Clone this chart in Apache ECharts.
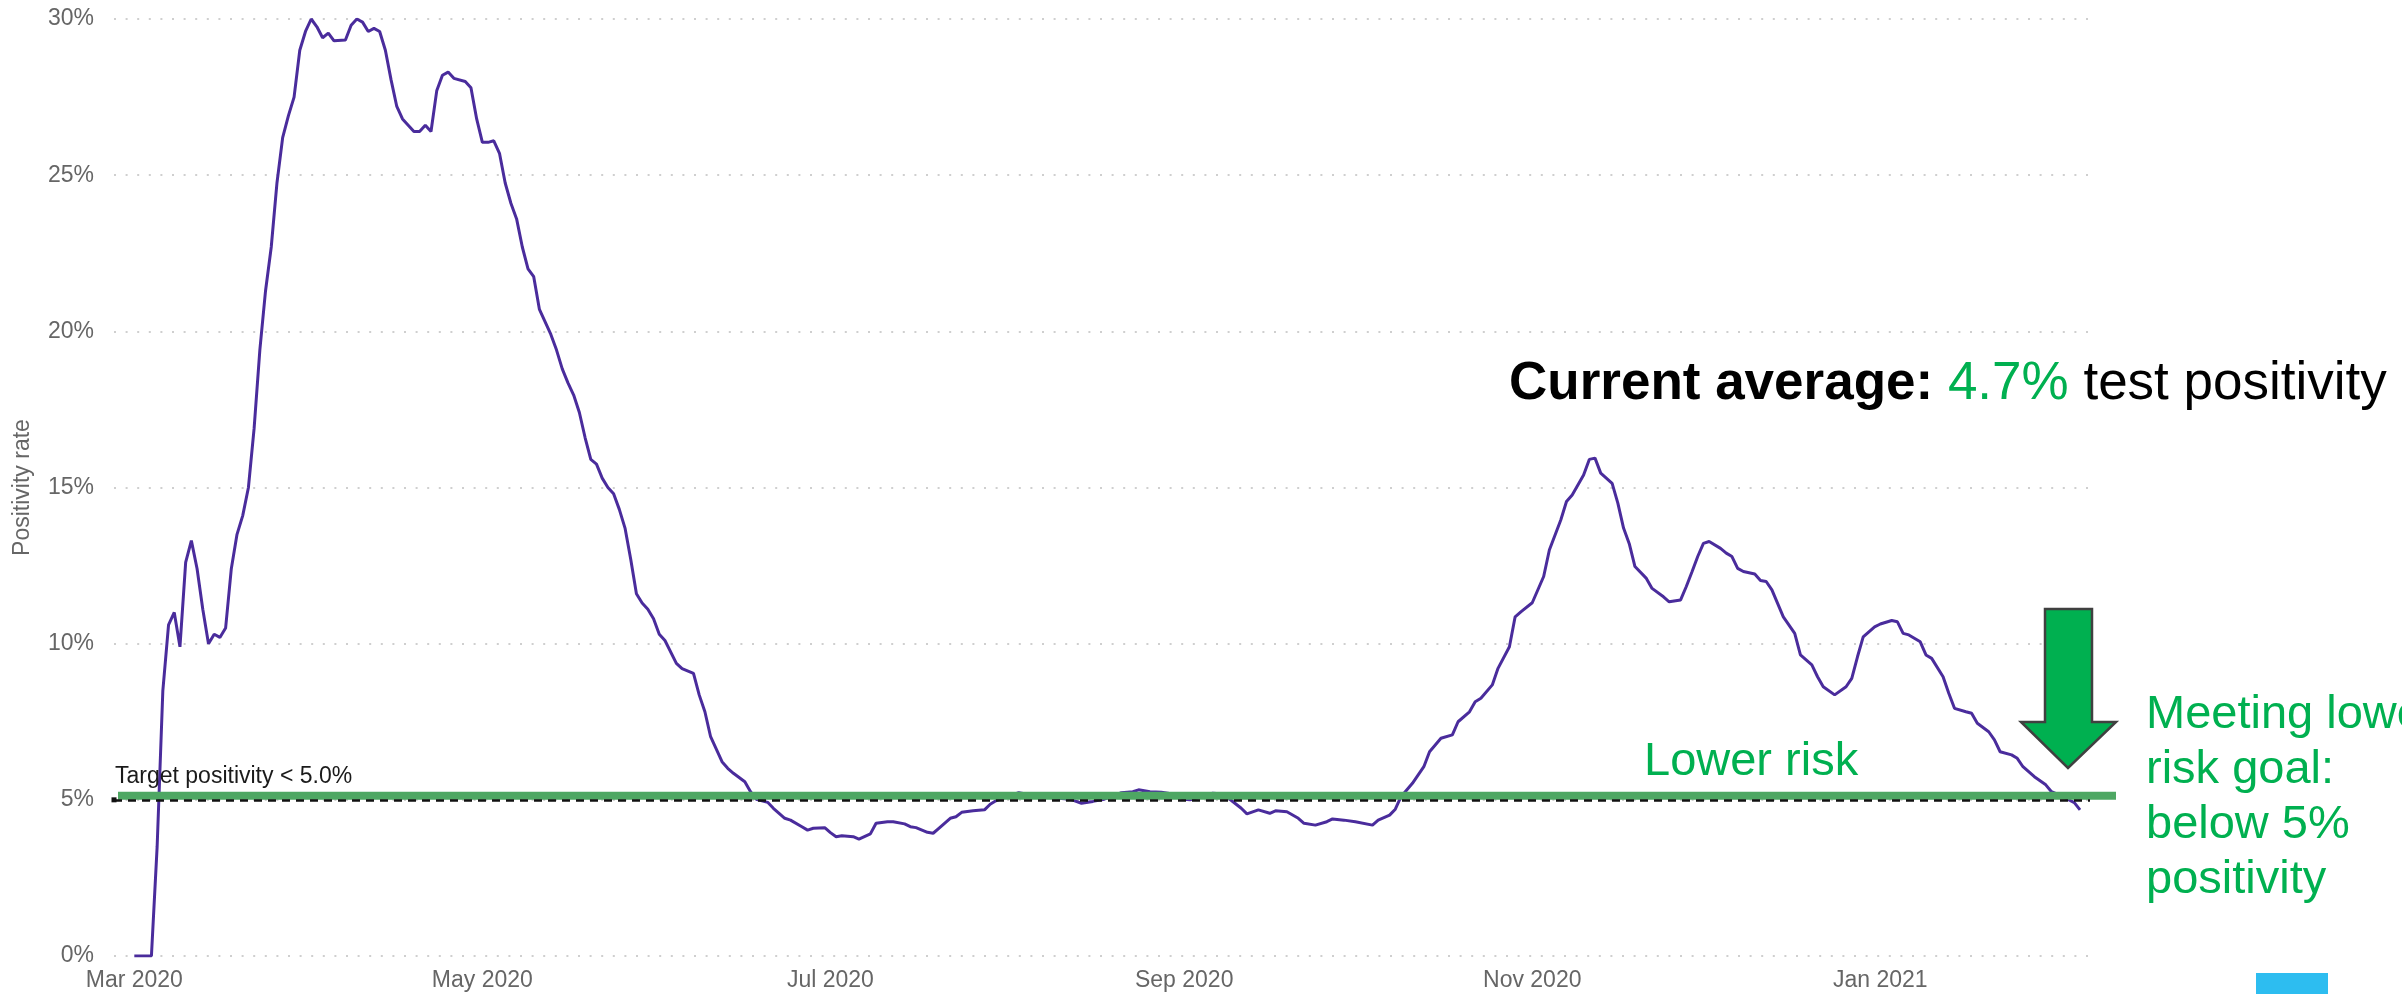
<!DOCTYPE html>
<html>
<head>
<meta charset="utf-8">
<script src="https://cdn.jsdelivr.net/npm/echarts@6/dist/echarts.min.js"></script>
<style>
html,body{margin:0;padding:0;background:#fff;}
#chart{width:2402px;height:994px;}
</style>
</head>
<body>
<div id="chart"></div>
<script>
// ---- data ----
// day index = days since 2020-03-01
const daysSinceMar1 = [
  0,3,4,5,6,7,8,9,10,11,12,13,14,15,16,17,18,19,20,21,22,23,24,25,26,27,28,29,30,31,
  32,33,34,35,37,38,39,40,41,42,43,44,45,46,47,48,49,50,51,52,53,54,55,56,58,59,60,
  61,62,63,64,65,66,67,68,69,70,71,72,73,74,75,76,77,78,79,80,81,82,83,84,85,86,87,88,
  89,90,91,92,93,95,96,98,99,100,101,103,104,105,107,108,109,111,112,114,115,117,118,
  119,121,122,123,124,126,127,129,130,132,133,135,136,137,139,140,141,143,144,145,147,
  149,150,151,153,155,157,159,162,164,166,168,170,173,175,176,178,180,182,184,185,187,
  189,191,192,194,195,197,199,200,202,204,205,207,209,210,212,214,217,218,220,221,222,
  224,226,227,229,231,232,234,235,236,238,239,241,242,243,245,247,248,250,251,252,254,
  255,256,257,259,260,261,262,263,265,266,268,269,271,272,273,274,275,276,278,279,280,
  281,282,284,285,286,287,288,289,291,292,294,295,296,298,300,301,302,303,305,306,308,
  309,310,311,313,314,315,317,318,319,321,322,323,325,326,327,329,330,331,333,335,336,
  338,340,341
];
const positivity = [
  0,0,3.5,8.5,10.6,11.0,9.9,12.6,13.3,12.4,11.1,10.0,10.3,10.2,10.5,12.4,13.5,14.1,15.0,16.9,19.4,21.3,22.7,24.75,26.2,26.9,27.5,29.0,29.6,30.0,
  29.75,29.4,29.55,29.3,29.33,29.8,30.0,29.9,29.6,29.7,29.6,29.0,28.05,27.2,26.8,26.6,26.4,26.4,26.6,26.4,27.7,28.2,28.3,28.1,28.0,27.8,26.8,
  26.05,26.05,26.1,25.7,24.75,24.1,23.6,22.7,22.0,21.75,20.7,20.3,19.9,19.4,18.8,18.35,17.96,17.4,16.6,15.9,15.75,15.3,15.0,14.8,14.3,13.7,12.7,11.6,
  11.3,11.1,10.8,10.3,10.1,9.37,9.2,9.05,8.36,7.82,7.02,6.22,6.01,5.85,5.58,5.26,5.02,4.92,4.73,4.41,4.35,4.14,4.03,
  4.09,4.11,3.95,3.82,3.85,3.82,3.74,3.91,4.25,4.3,4.3,4.23,4.14,4.11,3.96,3.93,4.09,4.41,4.46,4.6,4.65,
  4.68,4.86,4.97,5.1,5.23,5.16,5.1,5.05,5.02,4.89,4.95,5.02,5.23,5.26,5.32,5.26,5.24,5.19,5.02,5.0,5.1,
  5.21,5.19,5.02,4.73,4.55,4.68,4.57,4.65,4.62,4.41,4.25,4.19,4.3,4.39,4.35,4.3,4.19,4.35,4.51,4.7,5.1,
  5.53,6.06,6.54,6.97,7.08,7.5,7.82,8.14,8.25,8.68,9.21,9.9,10.86,11.02,11.31,12.15,13.0,13.96,14.55,14.76,15.4,
  15.9,15.94,15.46,15.13,14.5,13.7,13.2,12.47,12.09,11.77,11.5,11.34,11.4,11.83,12.3,12.79,13.21,13.27,13.05,12.9,12.79,
  12.41,12.31,12.23,12.02,11.99,11.72,11.29,10.86,10.33,9.64,9.32,8.94,8.62,8.36,8.62,8.89,9.58,10.22,10.54,10.63,10.74,
  10.7,10.33,10.28,10.06,9.64,9.53,8.94,8.41,7.93,7.82,7.77,7.45,7.18,6.92,6.54,6.44,6.33,6.06,5.74,5.48,5.26,
  5.1,4.91,4.68
];
const tickDates = ['2020-03-01','2020-05-01','2020-07-01','2020-09-01','2020-11-01','2021-01-01'];
const tickLabels = ['Mar 2020','May 2020','Jul 2020','Sep 2020','Nov 2020','Jan 2021'];
const yTicks = [0,5,10,15,20,25,30];
const targetValue = 5;
const targetLabel = 'Target positivity < 5.0%';
const currentAverage = '4.7%';

// ---- chart ----
const DAY = 86400000;
const START = Date.UTC(2020, 2, 1);
const toDay = s => { const p = s.split('-').map(Number); return Math.round((Date.UTC(p[0], p[1]-1, p[2]) - START) / DAY); };
const tickDays = tickDates.map(toDay);
const labelOf = {};
tickDays.forEach((t,i) => { labelOf[t] = tickLabels[i]; });
const seriesData = daysSinceMar1.map((d,i) => [d, positivity[i]]);

const FONT = 'Liberation Sans, Arial, sans-serif';
const chart = echarts.init(document.getElementById('chart'), null, {renderer:'canvas'});
const option = {
  animation: false,
  backgroundColor: '#ffffff',
  grid: {left:114, right:312, top:19, bottom:38, containLabel:false},
  xAxis: {
    type: 'value',
    min: -3.56,
    max: 342.75,
    axisLine: {show:false},
    axisTick: {show:false},
    splitLine: {show:false},
    axisLabel: {
      customValues: tickDays,
      formatter: v => labelOf[Math.round(v)] || '',
      color: '#666', fontSize: 23, fontFamily: FONT, margin: 13
    }
  },
  yAxis: {
    type: 'value',
    min: yTicks[0], max: yTicks[yTicks.length-1], interval: 5,
    name: 'Positivity rate',
    nameLocation: 'middle',
    nameGap: 80,
    nameTextStyle: {color:'#666', fontSize:23, fontFamily: FONT},
    axisLine: {show:false},
    axisTick: {show:false},
    axisLabel: {formatter: '{value}%', color:'#666', fontSize:23, fontFamily: FONT, margin:20},
    splitLine: {show:true, lineStyle:{color:'#cfcfcf', width:2, type:[2,9.6]}}
  },
  series: [
    {
      type: 'line',
      data: seriesData,
      showSymbol: false,
      symbol: 'none',
      z: 2,
      lineStyle: {color:'#4a2c9c', width:3},
      itemStyle: {color:'#4a2c9c'}
    },
    {
      type: 'line',
      data: [],
      z: 6,
      markLine: {
        silent: true,
        symbol: ['rect','none'],
        symbolSize: [5,5],
        lineStyle: {color:'#111', type:[8,6], width:2.5},
        label: {
          show: true,
          position: 'insideStartTop',
          formatter: targetLabel,
          color: '#1a1a1a', fontSize: 23, fontFamily: FONT,
          distance: [1, 12]
        },
        data: [{yAxis: targetValue}]
      }
    }
  ]
};
chart.setOption(option);

const y5 = chart.convertToPixel({yAxisIndex:0}, targetValue);
const green = '#00B050';
chart.setOption({
  graphic: [
    {type:'rect', z:4, shape:{x:118, y:y5-8, width:1998, height:8}, style:{fill:'#4ea763'}},
    {type:'polygon', z:10, shape:{points:[[2045,609],[2092,609],[2092,722],[2116,722],[2068,768],[2021,722],[2045,722]]},
      style:{fill:green, stroke:'#404040', lineWidth:2.5}},
    {type:'text', z:10, x:1509, y:384, style:{
      text:'{b|Current average:} {g|' + currentAverage + '} test positivity',
      fontSize:53, fontFamily:FONT, fill:'#000', verticalAlign:'middle', align:'left',
      rich:{
        b:{fontSize:53, fontFamily:FONT, fontWeight:'bold', fill:'#000'},
        g:{fontSize:53, fontFamily:FONT, fill:green}
      }
    }},
    {type:'text', z:10, x:1644, y:762, style:{
      text:'Lower risk', fontSize:47, fontFamily:FONT, fill:green, verticalAlign:'middle', align:'left'
    }},
    {type:'text', z:10, x:2146, y:688, style:{
      text:'Meeting lower\nrisk goal:\nbelow 5%\npositivity', fontSize:47, lineHeight:55,
      fontFamily:FONT, fill:green, verticalAlign:'top', align:'left'
    }},
    {type:'rect', z:10, shape:{x:2256, y:973, width:72, height:21}, style:{fill:'#2dbdf0'}}
  ]
});
</script>
</body>
</html>
